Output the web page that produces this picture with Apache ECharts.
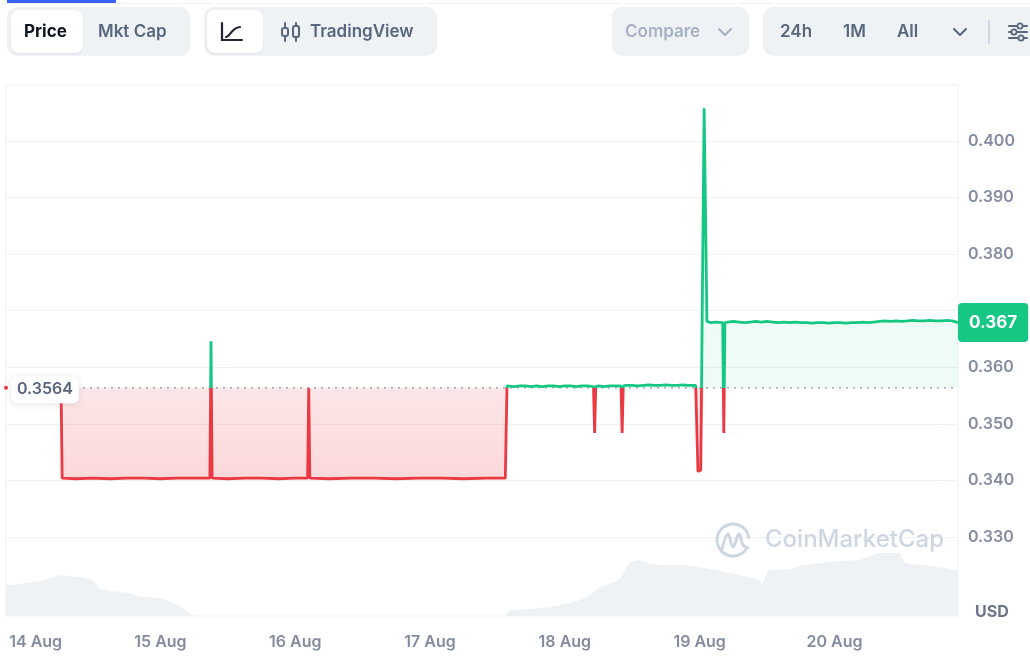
<!DOCTYPE html>
<html>
<head>
<meta charset="utf-8">
<script src="https://cdn.jsdelivr.net/npm/echarts@6/dist/echarts.min.js"></script>
<style>
  html, body { margin: 0; padding: 0; background: #fff; }
  body { width: 1030px; height: 657px; overflow: hidden; position: relative; font-family: Inter, 'Noto Sans', sans-serif; }
  #chart { position: absolute; left: 0; top: 0; width: 1030px; height: 657px; }
  .topline { position: absolute; left: 0; top: 3px; width: 1030px; height: 1px; background: #eff2f5; }
  .tabline { position: absolute; left: 7px; top: 0; width: 109px; height: 3px; background: #3861fb; }
  .grp { position: absolute; top: 7px; height: 49px; background: #eff2f5; border-radius: 10px; }
  .on { position: absolute; top: 3px; height: 43px; background: #fff; border-radius: 8px; box-shadow: 0 1px 2px rgba(88,102,126,0.12); }
  .t { position: absolute; top: 0; line-height: 49px; font-size: 17px; font-weight: 600; color: #58667e; white-space: nowrap; }
  .ic { position: absolute; }
</style>
</head>
<body>
<div id="chart"></div>

<div class="topline"></div>
<div class="tabline"></div>

<div class="grp" style="left:7px;width:183px;">
  <div class="on" style="left:4px;width:72px;"></div>
  <div class="t" style="left:17px;color:#0d1421;font-weight:700;">Price</div>
  <div class="t" style="left:91px;">Mkt Cap</div>
</div>

<div class="grp" style="left:204px;width:233px;">
  <div class="on" style="left:3px;width:56px;"></div>
  <svg class="ic" style="left:16px;top:14px;" width="26" height="22" viewBox="0 0 26 22">
    <path d="M2 2 V19 H22" fill="none" stroke="#222531" stroke-width="2.2" stroke-linecap="round"/>
    <path d="M6 16 C10 16 11 7 20 6" fill="none" stroke="#222531" stroke-width="2.2" stroke-linecap="round"/>
  </svg>
  <svg class="ic" style="left:76px;top:14px;" width="22" height="22" viewBox="0 0 22 22">
    <path d="M5 2 V20 M16 2 V20" stroke="#58667e" stroke-width="2" stroke-linecap="round"/>
    <rect x="2" y="7" width="6" height="8" rx="2" fill="#eff2f5" stroke="#58667e" stroke-width="2"/>
    <rect x="13" y="5" width="6" height="11" rx="2" fill="#eff2f5" stroke="#58667e" stroke-width="2"/>
  </svg>
  <div class="t" style="left:106px;">TradingView</div>
</div>

<div class="grp" style="left:612px;width:137px;">
  <div class="t" style="left:13px;color:#a6b0c3;">Compare</div>
  <svg class="ic" style="left:105px;top:18px;" width="16" height="14" viewBox="0 0 16 14">
    <path d="M2 4 L8 10 L14 4" fill="none" stroke="#a6b0c3" stroke-width="2" stroke-linecap="round" stroke-linejoin="round"/>
  </svg>
</div>

<div class="grp" style="left:763px;width:300px;">
  <div class="t" style="left:17px;">24h</div>
  <div class="t" style="left:80px;">1M</div>
  <div class="t" style="left:134px;">All</div>
  <svg class="ic" style="left:189px;top:18px;" width="16" height="14" viewBox="0 0 16 14">
    <path d="M2 4 L8 10 L14 4" fill="none" stroke="#58667e" stroke-width="2" stroke-linecap="round" stroke-linejoin="round"/>
  </svg>
  <div style="position:absolute;left:225px;top:13px;width:2px;height:24px;background:#cfd6e4;"></div>
  <svg class="ic" style="left:244px;top:14px;" width="22" height="22" viewBox="0 0 22 22">
    <path d="M2 5 H20 M2 11 H20 M2 17 H20" stroke="#58667e" stroke-width="2" stroke-linecap="round"/>
    <circle cx="13" cy="5" r="2.6" fill="#eff2f5" stroke="#58667e" stroke-width="1.8"/>
    <circle cx="7" cy="11" r="2.6" fill="#eff2f5" stroke="#58667e" stroke-width="1.8"/>
    <circle cx="14" cy="17" r="2.6" fill="#eff2f5" stroke="#58667e" stroke-width="1.8"/>
  </svg>
</div>

<script>
// hours are counted from 15 Aug 00:00 UTC
const baseTime = Date.UTC(2024, 7, 15)
const hour = 3600 * 1000
const startHour = -27.5
const endHour = 142

const basePrice = 0.3564

// [hour, price]
const pricePoints = [
    [-17.7, 0.3564], [-17.5, 0.3404], [-15, 0.3403], [-12, 0.3404], [-9, 0.3403], [-6, 0.3404],
    [-3, 0.3404], [0, 0.3403], [3, 0.3404], [6, 0.3404], [8.8, 0.3404], [9.0, 0.3646], [9.2, 0.3404],
    [12, 0.3403], [15, 0.3404], [18, 0.3404], [21, 0.3403], [24, 0.3404], [26.2, 0.3404],
    [26.4, 0.3563], [26.6, 0.3404], [30, 0.3403], [34, 0.3404], [38, 0.3404], [42, 0.3403],
    [46, 0.3404], [50, 0.3404], [54, 0.3403], [58, 0.3404], [61.4, 0.3404],
    [61.7, 0.3567], [62, 0.3567], [63, 0.3566], [64, 0.3567], [65, 0.3567], [66, 0.3566],
    [67, 0.3567], [68, 0.3566], [69, 0.3567], [70, 0.3567], [71, 0.3566], [72, 0.3567],
    [73, 0.3567], [74, 0.3566], [75, 0.3567], [76, 0.3567], [77.1, 0.3566], [77.3, 0.3484],
    [77.5, 0.3566], [78, 0.3567], [79, 0.3566], [80, 0.3567], [81, 0.3567], [82.0, 0.3567],
    [82.2, 0.3484], [82.4, 0.3567], [83, 0.3568], [84, 0.3568], [85, 0.3567], [86, 0.3568],
    [87, 0.3569], [88, 0.3568], [89, 0.3568], [90, 0.3569], [91, 0.3568], [92, 0.3568],
    [93, 0.3569], [94, 0.3568], [95.3, 0.3568], [95.7, 0.3416], [96.2, 0.3418], [96.8, 0.4058],
    [97.3, 0.3681], [98, 0.3679], [99, 0.3680], [100.1, 0.3679], [100.3, 0.3484], [100.5, 0.3679],
    [101, 0.3680], [102, 0.3681], [103, 0.3680], [104, 0.3679], [105, 0.3680], [106, 0.3681],
    [107, 0.3680], [108, 0.3681], [109, 0.3680], [110, 0.3679], [111, 0.3680], [112, 0.3679],
    [113, 0.3680], [114, 0.3679], [115, 0.3679], [116, 0.3678], [117, 0.3679], [118, 0.3679],
    [119, 0.3678], [120, 0.3679], [121, 0.3679], [122, 0.3678], [123, 0.3679], [124, 0.3679],
    [125, 0.3680], [126, 0.3679], [127, 0.3680], [128, 0.3681], [129, 0.3682], [130, 0.3681],
    [131, 0.3682], [132, 0.3681], [133, 0.3682], [134, 0.3683], [135, 0.3682], [136, 0.3682],
    [137, 0.3683], [138, 0.3682], [139, 0.3682], [140, 0.3683], [141, 0.3682], [142, 0.3679]
]

// [hour, volume]
const volumePoints = [
    [-27.5, 31], [-25, 32], [-21.5, 35], [-19.7, 38], [-17.9, 41], [-16, 40], [-14.3, 39],
    [-12.6, 37], [-11.7, 34], [-10.8, 27], [-9, 25], [-5.4, 23], [-3.7, 19], [-0.1, 18],
    [1.7, 14], [3.5, 10], [5.3, 2], [6.1, 0], [61.3, 0], [62.2, 6], [65.8, 7], [69.3, 9],
    [72.9, 13], [74.7, 16], [76.5, 21], [78.3, 29], [80.9, 34], [81.8, 37], [82.7, 46],
    [83.6, 54], [85.4, 56], [87.1, 52], [88.9, 51], [92.5, 51], [96, 49], [99.6, 45],
    [103.2, 41], [106.7, 36], [107.1, 31], [108.2, 46], [112.1, 47], [113.8, 50], [117.4, 53],
    [120.9, 55], [124.5, 56], [126.3, 60], [128.1, 63], [131.6, 63], [132.5, 53], [135.2, 51],
    [138.8, 49], [142, 46]
]

const priceTicks = { min: 0.31, max: 0.41, step: 0.01 }
const volumeMax = 531

const red = '#ea3943'
const green = '#16c784'
const labelGrey = '#858ca2'

const toTime = h => baseTime + h * hour
const priceData = pricePoints.map(p => [toTime(p[0]), p[1]])
const redArea = pricePoints.map(p => [toTime(p[0]), Math.min(p[1], basePrice)])
const greenArea = pricePoints.map(p => [toTime(p[0]), Math.max(p[1], basePrice)])
const volumeData = volumePoints.map(p => [toTime(p[0]), p[1]])
const baseLine = [[toTime(startHour), basePrice], [toTime(endHour), basePrice]]
const lastPoint = priceData[priceData.length - 1]
const lastText = (Math.floor(lastPoint[1] * 1000) / 1000).toFixed(3)

const chart = echarts.init(document.getElementById('chart'))

chart.setOption({
    useUTC: true,
    animation: false,
    textStyle: { fontFamily: 'Inter, "Noto Sans", sans-serif' },
    grid: [
        { left: 6, right: 72, top: 84.4, bottom: 6.8 },
        { left: 6, right: 72, top: 85, bottom: 41, show: true, borderColor: '#eff2f5', borderWidth: 1 }
    ],
    visualMap: {
        type: 'piecewise',
        show: false,
        seriesIndex: 4,
        dimension: 1,
        // finite bounds so the line gets real colour stops
        pieces: [
            { gte: 0, lt: basePrice, color: red },
            { gte: basePrice, lte: 1, color: green }
        ]
    },
    xAxis: [
        {
            type: 'time', gridIndex: 0,
            min: toTime(startHour), max: toTime(endHour),
            show: false
        },
        {
            type: 'time', gridIndex: 1,
            min: toTime(startHour), max: toTime(endHour),
            minInterval: 24 * hour, maxInterval: 24 * hour,
            axisLine: { show: false },
            axisTick: { show: false },
            splitLine: { show: false },
            axisLabel: {
                margin: 18,
                fontSize: 16,
                fontWeight: 600,
                color: labelGrey,
                formatter: function (v) {
                    const d = new Date(v)
                    const txt = d.getUTCDate() + ' Aug'
                    // first label is pushed right so it stays inside the frame
                    return d.getUTCDate() === 14 ? '{first|' + txt + '}' : txt
                },
                rich: {
                    first: { padding: [0, 0, 0, 20], fontSize: 16, fontWeight: 600, color: labelGrey }
                }
            }
        }
    ],
    yAxis: [
        {
            type: 'value', gridIndex: 0, position: 'right',
            min: priceTicks.min, max: priceTicks.max, interval: priceTicks.step,
            axisLine: { show: false },
            axisTick: { show: false },
            axisLabel: {
                margin: 10,
                fontSize: 16,
                fontWeight: 600,
                color: labelGrey,
                formatter: function (v) {
                    if (v < 0.325 || v > 0.405) return ''
                    return v.toFixed(3)
                }
            },
            splitLine: {
                lineStyle: {
                    color: ['transparent', 'transparent', '#eff2f5', '#eff2f5', '#eff2f5', '#eff2f5',
                        '#eff2f5', '#eff2f5', '#eff2f5', '#eff2f5', 'transparent'],
                    width: 1
                }
            }
        },
        {
            type: 'value', gridIndex: 1, min: 0, max: volumeMax, show: false
        }
    ],
    graphic: [
        {
            type: 'text', left: 975, top: 604, z: 10,
            style: { text: 'USD', fontSize: 16, fontWeight: 700, fill: '#6b7489', fontFamily: 'Inter' }
        },
        {
            type: 'arc', z: 1, silent: true,
            shape: { cx: 733, cy: 540, r: 16, startAngle: Math.PI * 0.2, endAngle: Math.PI * 1.95 },
            style: { stroke: '#cfd6e3', lineWidth: 3, fill: 'none', lineCap: 'round' }
        },
        {
            type: 'polyline', z: 1, silent: true,
            shape: { points: [[722, 549], [728, 534], [733, 547], [739, 534], [743, 545], [748, 548]], smooth: 0.4 },
            style: { stroke: '#cfd6e3', lineWidth: 3, fill: 'none', lineCap: 'round', lineJoin: 'round' }
        },
        {
            type: 'text', left: 765, top: 528, z: 1, silent: true,
            style: { text: 'CoinMarketCap', fontSize: 24, fontWeight: 500, fill: '#cfd6e3', fontFamily: 'Inter' }
        }
    ],
    series: [
        {
            name: 'Volume',
            type: 'line',
            xAxisIndex: 1, yAxisIndex: 1,
            data: volumeData,
            showSymbol: false,
            lineStyle: { width: 0, opacity: 0 },
            areaStyle: { color: '#eff2f5', opacity: 1 },
            silent: true,
            z: 0
        },
        {
            name: 'Below',
            type: 'line',
            xAxisIndex: 0, yAxisIndex: 0,
            data: redArea,
            showSymbol: false,
            lineStyle: { width: 0, opacity: 0 },
            areaStyle: {
                origin: basePrice,
                color: new echarts.graphic.LinearGradient(0, 0, 0, 1, [
                    { offset: 0, color: 'rgba(234,57,67,0.18)' },
                    { offset: 1, color: 'rgba(234,57,67,0.28)' }
                ])
            },
            silent: true,
            z: 1
        },
        {
            name: 'Above',
            type: 'line',
            xAxisIndex: 0, yAxisIndex: 0,
            data: greenArea,
            showSymbol: false,
            lineStyle: { width: 0, opacity: 0 },
            areaStyle: { origin: basePrice, color: 'rgba(22,199,132,0.10)' },
            silent: true,
            z: 1
        },
        {
            name: 'Open',
            type: 'line',
            xAxisIndex: 0, yAxisIndex: 0,
            data: baseLine,
            showSymbol: false,
            lineStyle: { color: '#a1a7bb', type: [2, 5], width: 1.5 },
            silent: true,
            z: 2
        },
        {
            name: 'Price',
            type: 'line',
            xAxisIndex: 0, yAxisIndex: 0,
            data: priceData,
            showSymbol: false,
            lineStyle: { width: 2.8 },
            z: 3,
            markPoint: {
                silent: true,
                data: [
                    {
                        coord: [toTime(startHour), basePrice],
                        symbol: 'circle',
                        symbolSize: 4,
                        itemStyle: { color: red },
                        label: {
                            show: true,
                            position: 'right',
                            distance: 3,
                            offset: [0, 2],
                            formatter: basePrice.toFixed(4),
                            backgroundColor: '#fff',
                            borderRadius: 6,
                            padding: [6, 6, 5, 6],
                            shadowBlur: 6,
                            shadowColor: 'rgba(88,102,126,0.18)',
                            shadowOffsetY: 1,
                            color: '#58667e',
                            fontSize: 16,
                            fontWeight: 600
                        }
                    },
                    {
                        coord: lastPoint,
                        symbol: 'circle',
                        symbolSize: 0.1,
                        label: {
                            show: true,
                            position: 'right',
                            distance: 0,
                            formatter: lastText,
                            backgroundColor: green,
                            borderRadius: 4,
                            padding: [11, 11, 11, 11],
                            color: '#fff',
                            fontSize: 17,
                            fontWeight: 700
                        }
                    }
                ]
            }
        }
    ]
})
</script>
</body>
</html>
